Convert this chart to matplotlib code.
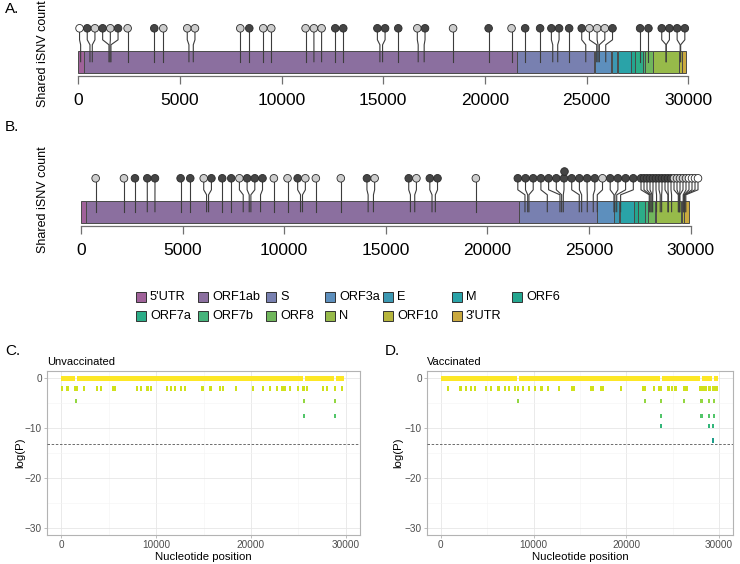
import numpy as np
import matplotlib.pyplot as plt
from matplotlib.patches import Rectangle
from matplotlib.colors import Normalize

plt.rcParams['font.family'] = ['Liberation Sans', 'DejaVu Sans']

# genome features
feat_names = ["5'UTR", "ORF1ab", "S", "ORF3a", "E", "M", "ORF6",
              "ORF7a", "ORF7b", "ORF8", "N", "ORF10", "3'UTR"]
feat_start = [1, 266, 21563, 25393, 26245, 26523, 27202, 27394, 27756, 27894, 28274, 29558, 29675]
feat_end = [265, 21555, 25384, 26220, 26472, 27191, 27387, 27759, 27887, 28259, 29533, 29674, 29903]
feat_colors = ['#a0629a', '#8b6f9f', '#7880b0', '#5d8fbd', '#3c98b2', '#2aa3a8', '#24a68f',
               '#2cad88', '#46b37b', '#70b65c', '#97ba4a', '#b6b53c', '#caa93f']

# A: shared iSNVs, unvaccinated (d = dark, l = light, w = white)
snv_a_pos = [115, 574, 688, 1508, 1557, 1606, 2426, 3737, 4180, 5441, 5655, 7966, 8409,
             9097, 9490, 11178, 11588, 11965, 12637, 13030, 14833, 14964, 15735, 16716,
             17010, 18431, 20180, 21307, 21977, 22712, 23333, 23578, 24140, 24957, 25497,
             25560, 25625, 25940, 27630, 28040, 28910, 28910, 29600, 29625]
snv_a_kind = list('wdldldldlllld' 'lllll' 'ddddd' 'ldldl' 'dddddd' 'lll' 'ddddddd')
snv_a_count = [1] * len(snv_a_pos)

# B: shared iSNVs, vaccinated
snv_b_pos = [721, 2114, 2655, 3262, 3639, 4901, 5376, 6179, 6277, 6949, 7392, 7982, 8277,
             8359, 8834, 9490, 10162, 10801, 10899, 11555, 12784, 14128, 14390, 16209,
             16421, 17271, 17435, 19428,
             21845, 21980, 22040, 22944, 23567, 23650, 23731, 24517, 24634, 24911, 25206,
             25403, 26224, 26270, 26360, 26552,
             27960, 28000, 28050, 28100, 28130, 28320, 28500, 28570, 28880, 28900, 29060,
             29390, 29420, 29450, 29470, 29630, 29660, 29690, 29720, 29760]
snv_b_kind = list('llddddd' 'lddd' 'lddd' 'll' 'd' 'lll' 'd' 'l'
                  'dlddl'
                  'ddddddddddd' 'l'
                  'dddd'
                  'ddddddddddd' 'lllll' 'wwww')
snv_b_count = [2 if p == 23731 else 1 for p in snv_b_pos]

# C / D: log(P) per position
zero_c = [(0, 1450), (1660, 25450), (25680, 28800), (29020, 29850)]
tile_c_pos = sorted(set(snv_a_pos)) + [1557, 25560, 28910, 25560, 28910]
tile_c_logp = [-2.0] * len(set(snv_a_pos)) + [-4.5, -4.5, -4.5, -7.6, -7.6]

zero_d = [(0, 8200), (8400, 23620), (23850, 27900), (28200, 29220), (29420, 29850)]
tile_d_pos = sorted(set(snv_b_pos)) + [8277, 21980, 23731, 26224, 28000, 28130, 28880, 29470,
                                        23731, 28000, 28130, 28880, 29470,
                                        23731, 28880, 29320, 29320]
tile_d_logp = [-2.0] * len(set(snv_b_pos)) + [-4.5] * 8 + [-7.6] * 5 + [-9.6] * 3 + [-12.5]
threshold = -13.2

W, H = 740, 564
fig = plt.figure(figsize=(W / 100, H / 100), dpi=100)


def px_axes(x0, y0, x1, y1):
    return fig.add_axes([x0 / W, 1 - y1 / H, (x1 - x0) / W, (y1 - y0) / H])


def spread(base, gaps):
    # put heads apart: merge overlapping groups, centre each group on its bases
    offs = np.concatenate([[0.0], np.cumsum(gaps)])

    def place(c):
        o = offs[c] - offs[c[0]]
        return base[c].mean() - o.mean() + o

    groups = [[i] for i in range(len(base))]
    changed = True
    while changed:
        changed = False
        new = [groups[0]]
        for g in groups[1:]:
            prev = new[-1]
            if place(g)[0] - place(prev)[-1] < gaps[prev[-1]] - 1e-9:
                new[-1] = prev + g
                changed = True
            else:
                new.append(g)
        groups = new
    heads = np.empty(len(base))
    for g in groups:
        heads[g] = place(g)
    return heads


cols = {'d': '#454545', 'l': '#cdcdcd', 'w': '#ffffff'}


def genome_panel(box, pos, kind, count, dense_from=None):
    x0, y0, x1, y1 = box
    ax = px_axes(x0, y0, x1, y1)
    ax.set_xlim(0, 30000)
    ax.set_ylim(y1, y0)
    npx = 30000 / (x1 - x0)
    bar_top, bar_h = y1 - 25.3, 22
    y_base = bar_top + bar_h / 2
    y_head = bar_top - 22.4
    y_k1, y_k2 = y_head + 11.5, y_head + 16.5
    for s, e, c in zip(feat_start, feat_end, feat_colors):
        ax.add_patch(Rectangle((s, bar_top), e - s, bar_h, facecolor=c,
                               edgecolor='#4a4a4a', lw=0.7, zorder=1))
    order = np.argsort(pos, kind='stable')
    base = np.asarray(pos, float)[order]
    kd = [kind[i] for i in order]
    cnt = [count[i] for i in order]
    gaps = []
    for i in range(len(base) - 1):
        if dense_from is not None and base[i] >= dense_from and base[i + 1] >= dense_from:
            gaps.append(3.0 * npx)
        else:
            gaps.append(7.7 * npx)
    heads = spread(base, np.array(gaps))
    for b, h in zip(base, heads):
        ax.plot([b, b, h, h], [y_base, y_k2, y_k1, y_head], color='#3c3c3c',
                lw=0.8, zorder=2, clip_on=False, solid_joinstyle='round')
    ax.scatter(heads, [y_head] * len(heads), s=30, c=[cols[k] for k in kd],
               edgecolors='#2a2a2a', linewidths=0.6, zorder=3, clip_on=False)
    up = [h for h, n in zip(heads, cnt) if n > 1]
    if up:
        ax.scatter(up, [y_head - 7.6] * len(up), s=30, c=cols['d'],
                   edgecolors='#2a2a2a', linewidths=0.6, zorder=3, clip_on=False)
    for sp in ['top', 'left', 'right']:
        ax.spines[sp].set_visible(False)
    ax.spines['bottom'].set_color('#707070')
    ax.spines['bottom'].set_linewidth(0.9)
    ax.set_yticks([])
    ax.set_xticks(range(0, 30001, 5000))
    ax.tick_params(axis='x', length=6, width=0.9, color='#707070', labelsize=12.5, pad=6)
    ax.patch.set_alpha(0)
    return ax


genome_panel((78.3, 5, 688.3, 76), snv_a_pos, snv_a_kind, snv_a_count)
genome_panel((81, 128, 690.7, 226), snv_b_pos, snv_b_kind, snv_b_count, dense_from=27800)

for lab, yy in [('A.', 9), ('B.', 127)]:
    fig.text(5 / W, 1 - yy / H, lab, fontsize=11, va='center', ha='left')
for yy in [54, 200]:
    fig.text(43 / W, 1 - yy / H, 'Shared iSNV count', rotation=90, fontsize=9,
             ha='center', va='center')

# legend, filled row by row
leg_x = [136, 198, 266, 325, 383, 452, 512]
leg_y = [297, 316]
for i, (name, c) in enumerate(zip(feat_names, feat_colors)):
    r, k = divmod(i, 7)
    lx, ly = leg_x[k], leg_y[r]
    fig.patches.append(Rectangle((lx / W, 1 - (ly + 5) / H), 10 / W, 10 / H, facecolor=c,
                                 edgecolor='#333333', lw=0.7, transform=fig.transFigure,
                                 figure=fig))
    fig.text((lx + 14) / W, 1 - ly / H, name, fontsize=9.2, va='center', ha='left')

cmap = plt.get_cmap('viridis')
norm = Normalize(vmin=-28, vmax=0)


def pval_panel(box, zero_int, pos, logp, title, tag, tag_x, ylab_x):
    x0, y0, x1, y1 = box
    ax = px_axes(x0, y0, x1, y1)
    ax.set_xlim(-1500, 31500)
    ax.set_ylim(-31.5, 1.5)
    ax.set_xticks([0, 10000, 20000, 30000])
    ax.set_xticks([5000, 15000, 25000], minor=True)
    ax.set_yticks([0, -10, -20, -30])
    ax.set_yticks([-5, -15, -25], minor=True)
    ax.grid(which='major', color='#e6e6e6', lw=0.6)
    ax.grid(which='minor', color='#f3f3f3', lw=0.4)
    ax.set_axisbelow(True)
    ax.broken_barh([(s, e - s) for s, e in zero_int], (-0.5, 1.0),
                   facecolors=cmap(norm(0)), zorder=2)
    lp = np.array(logp)
    ax.bar(pos, 0.9, bottom=lp - 0.45, width=220, color=cmap(norm(lp)), linewidth=0, zorder=2)
    ax.axhline(threshold, color='#555555', lw=0.6, ls=(0, (3, 2)), zorder=3)
    for sp in ax.spines.values():
        sp.set_color('#b3b3b3')
        sp.set_linewidth(0.8)
    ax.tick_params(which='major', length=2.5, width=0.6, color='#b3b3b3',
                   labelsize=7.2, labelcolor='#4d4d4d', pad=1.2)
    ax.tick_params(which='minor', length=0)
    fig.text(((x0 + x1) / 2) / W, 1 - 557 / H, 'Nucleotide position', fontsize=8.2,
             ha='center', va='center')
    fig.text(ylab_x / W, 1 - ((y0 + y1) / 2) / H, 'log(P)', rotation=90, fontsize=8.2,
             ha='center', va='center')
    fig.text(x0 / W, 1 - 362 / H, title, fontsize=8, ha='left', va='center')
    fig.text(tag_x / W, 1 - 351 / H, tag, fontsize=11, ha='left', va='center')
    return ax


pval_panel((47, 371, 360, 535), zero_c, tile_c_pos, tile_c_logp, 'Unvaccinated', 'C.', 5, 20)
pval_panel((427, 371, 733, 535), zero_d, tile_d_pos, tile_d_logp, 'Vaccinated', 'D.', 385, 398)

fig.savefig('out.png', dpi=100)
